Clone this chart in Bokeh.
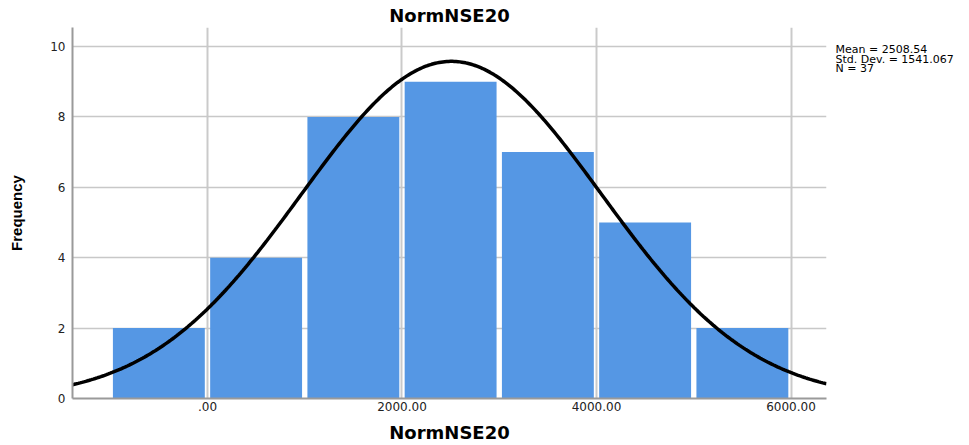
import numpy as np
from bokeh.plotting import figure
from bokeh.layouts import row
from bokeh.models import Range1d, FixedTicker
from bokeh.core.properties import value
from bokeh.embed import file_html
from bokeh.resources import INLINE

# ---- data ----
bin_edges = [-1000, 0, 1000, 2000, 3000, 4000, 5000, 6000]
counts = [2, 4, 8, 9, 7, 5, 2]
mean_val = 2508.54
std_val = 1541.067
n_val = 37
x_ticks = [0, 2000, 4000, 6000]
x_tick_labels = [".00", "2000.00", "4000.00", "6000.00"]
y_ticks = [0, 2, 4, 6, 8, 10]
title_text = "NormNSE20"
x_label = "NormNSE20"
y_label = "Frequency"
stats_lines = ["Mean = 2508.54", "Std. Dev. = 1541.067", "N = 37"]

X0, X1 = -1388, 6365
Y0, Y1 = 0, 10.54
H = 445
TOP, BOTTOM = 27, 47

p = figure(width=835, height=H, output_backend="svg", toolbar_location=None,
           title=title_text, x_range=Range1d(X0, X1), y_range=Range1d(Y0, Y1))
p.min_border_left = 72
p.min_border_right = 9
p.min_border_top = TOP
p.min_border_bottom = BOTTOM
p.outline_line_color = None
p.background_fill_color = "white"

p.title.align = "center"
p.title.text_font = "DejaVu Sans"
p.title.text_font_style = "bold"
p.title.text_font_size = "18px"
p.title.text_color = "black"
p.title.standoff = 4

# bars
edges = np.array(bin_edges, dtype=float)
centers = (edges[:-1] + edges[1:]) / 2
bw = edges[1] - edges[0]
p.vbar(x=centers, width=bw * 0.945, top=counts, bottom=0,
       fill_color="#5597e4", line_color=None)

# normal curve from the stated statistics
xs = np.linspace(X0, X1, 400)
ys = n_val * bw / (std_val * np.sqrt(2 * np.pi)) * np.exp(-0.5 * ((xs - mean_val) / std_val) ** 2)
p.line(xs, ys, line_color="black", line_width=3.5)

# axes
p.xaxis.ticker = FixedTicker(ticks=x_ticks)
p.xaxis.major_label_overrides = {t: l for t, l in zip(x_ticks, x_tick_labels)}
p.yaxis.ticker = FixedTicker(ticks=y_ticks)
for ax in (p.xaxis, p.yaxis):
    ax.axis_line_color = "#9a9a9a"
    ax.axis_line_width = 2
    ax.major_tick_line_color = None
    ax.minor_tick_line_color = None
    ax.major_tick_out = 0
    ax.major_tick_in = 0
    ax.minor_tick_out = 0
    ax.minor_tick_in = 0
    ax.major_label_text_font = "DejaVu Sans"
    ax.major_label_text_font_size = "12px"
    ax.major_label_text_color = "#222222"
    ax.axis_label_text_color = "black"
    ax.axis_label_text_font_style = "bold"
p.xaxis.major_label_standoff = 3
p.yaxis.major_label_standoff = 7

p.xaxis.axis_label = x_label
p.xaxis.axis_label_text_font = "DejaVu Sans"
p.xaxis.axis_label_text_font_size = "18px"
p.xaxis.axis_label_standoff = 8

p.yaxis.axis_label = y_label
p.yaxis.axis_label_text_font = "Liberation Sans"
p.yaxis.axis_label_text_font_size = "15px"
p.yaxis.axis_label_standoff = 22

p.xgrid.grid_line_color = "#cacaca"
p.xgrid.grid_line_width = 2
p.ygrid.grid_line_color = "#c8c8c8"
p.ygrid.grid_line_width = 1.3

# side panel with the statistics text; its frame is aligned with the main frame,
# so its y range is expressed in page pixels of that frame
p2 = figure(width=130, height=H, output_backend="svg", toolbar_location=None,
            title=None, x_range=Range1d(0, 130), y_range=Range1d(H - BOTTOM, TOP),
            x_axis_location=None, y_axis_location=None)
p2.min_border_left = 0
p2.min_border_right = 0
p2.min_border_top = TOP
p2.min_border_bottom = BOTTOM
p2.grid.visible = False
p2.outline_line_color = None
p2.text(x=[0] * len(stats_lines), y=[49 + 9.5 * i for i in range(len(stats_lines))],
        text=stats_lines, text_align="left", text_baseline="middle",
        text_font=value("DejaVu Sans"), text_font_size="11px", text_color="black")

open("out.html", "w").write(file_html(row(p, p2), INLINE))
